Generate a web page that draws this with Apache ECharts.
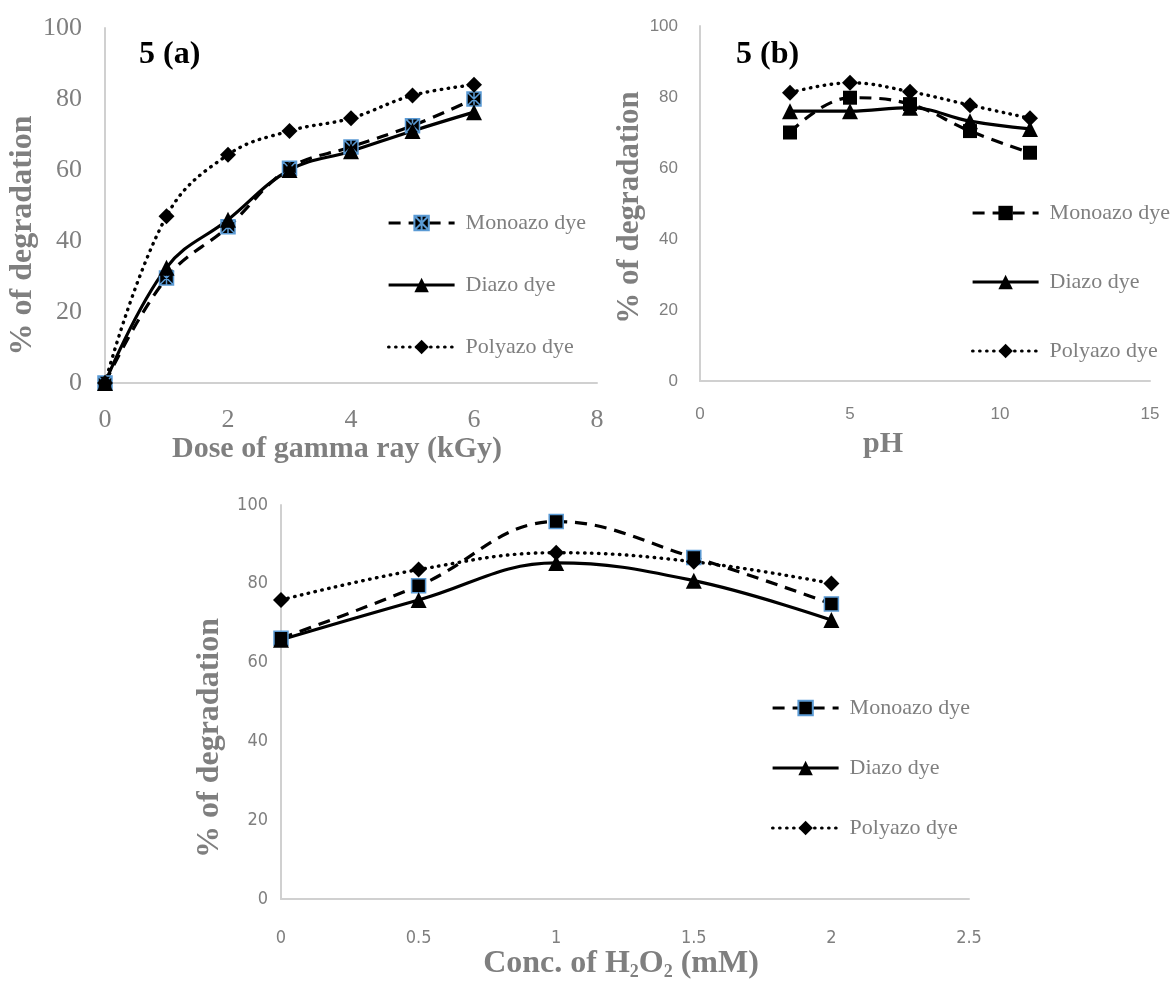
<!DOCTYPE html>
<html>
<head>
<meta charset="utf-8">
<script src="https://cdn.jsdelivr.net/npm/echarts@6/dist/echarts.min.js"></script>
<style>
  html, body { margin: 0; padding: 0; background: #fff; }
  #main { width: 1170px; height: 982px; }
</style>
</head>
<body>
<div id="main"></div>
<script>
// dose of gamma ray (kGy) - panel 5(a)
const doseX = [0, 1, 2, 3, 4, 5, 6];
const doseMono = [0, 29.6, 44, 60.5, 66.5, 72.5, 80];
const doseDi = [0, 32.5, 46, 60, 65.3, 71, 76.3];
const dosePoly = [0, 47, 64.3, 71, 74.6, 81, 84];

// pH - panel 5(b)
const phX = [3, 5, 7, 9, 11];
const phMono = [70, 79.8, 78, 70.4, 64.3];
const phDi = [76, 76, 77, 73.2, 71];
const phPoly = [81.2, 84, 81.5, 77.7, 74];

// conc. of H2O2 (mM) - panel (c)
const concX = [0, 0.5, 1, 1.5, 2];
const concMono = [66.2, 79.5, 95.8, 86.7, 74.9];
const concDi = [65.8, 75.9, 85.3, 80.8, 70.8];
const concPoly = [75.9, 83.6, 87.9, 85.6, 80.1];

const dyeNames = ['Monoazo dye', 'Diazo dye', 'Polyazo dye'];
const doseTicks = { min: 0, max: 8, interval: 2 };
const phTicks = { min: 0, max: 15, interval: 5 };
const concTicks = { min: 0, max: 2.5, interval: 0.5 };
const pctTicks = { min: 0, max: 100, interval: 20 };

const GRAY = '#7f7f7f';
const AXIS_LINE = '#d0d0d0';
const BLUE = '#5b9bd5';
const NARROW = '"DejaVu Sans Condensed", "Liberation Sans Narrow", "Liberation Sans"';
// square with a star drawn over it (excel "star" marker look)
const STAR_SQUARE = 'path://M0,0L10,0L10,10L0,10Z M0,0L10,10 M10,0L0,10 M5,0L5,10';

function pairs(xs, ys) {
  return xs.map((x, i) => [x, ys[i]]);
}

function makeSeries(panel, idx, xs, monoY, diY, polyY, monoSymbol, monoBorder) {
  return [
    {
      name: panel + '|' + dyeNames[0], type: 'line', xAxisIndex: idx, yAxisIndex: idx,
      data: pairs(xs, monoY), smooth: 0.4,
      symbol: monoSymbol, symbolSize: 14,
      itemStyle: { color: '#000', borderColor: monoBorder, borderWidth: monoBorder ? 1.5 : 0 },
      lineStyle: { color: '#000', width: 3.2, type: [12, 8] }
    },
    {
      name: panel + '|' + dyeNames[1], type: 'line', xAxisIndex: idx, yAxisIndex: idx,
      data: pairs(xs, diY), smooth: 0.4,
      symbol: 'triangle', symbolSize: 16,
      itemStyle: { color: '#000' },
      lineStyle: { color: '#000', width: 3.2, type: 'solid' }
    },
    {
      name: panel + '|' + dyeNames[2], type: 'line', xAxisIndex: idx, yAxisIndex: idx,
      data: pairs(xs, polyY), smooth: 0.4,
      symbol: 'diamond', symbolSize: 16,
      itemStyle: { color: '#000' },
      lineStyle: { color: '#000', width: 3.4, type: [0.5, 6.5], cap: 'round' }
    }
  ];
}

function xAxisOf(idx, ticks, name, labelFont, labelSize, labelMargin, nameSize, nameGap, namePad, rich) {
  return {
    type: 'value', gridIndex: idx, min: ticks.min, max: ticks.max, interval: ticks.interval,
    splitLine: { show: false }, axisTick: { show: false },
    axisLine: { lineStyle: { color: AXIS_LINE, width: 2 } },
    axisLabel: { color: GRAY, fontFamily: labelFont, fontSize: labelSize, margin: labelMargin },
    name: name, nameLocation: 'middle', nameGap: nameGap,
    nameTextStyle: {
      color: GRAY, fontFamily: 'Liberation Serif', fontWeight: 'bold', fontSize: nameSize,
      padding: namePad, rich: rich
    }
  };
}

function yAxisOf(idx, labelFont, labelSize, labelMargin, nameSize, nameGap, namePad) {
  return {
    type: 'value', gridIndex: idx, min: pctTicks.min, max: pctTicks.max, interval: pctTicks.interval,
    splitLine: { show: false }, axisTick: { show: false },
    axisLine: { show: true, lineStyle: { color: AXIS_LINE, width: 2 } },
    axisLabel: { color: GRAY, fontFamily: labelFont, fontSize: labelSize, margin: labelMargin },
    name: '% of degradation', nameLocation: 'middle', nameGap: nameGap,
    nameTextStyle: {
      color: GRAY, fontFamily: 'Liberation Serif', fontWeight: 'bold', fontSize: nameSize,
      padding: namePad
    }
  };
}

function legendOf(panel, left, top, gap, font) {
  return {
    orient: 'vertical', left: left, top: top, itemGap: gap,
    itemWidth: 66, itemHeight: 18,
    data: dyeNames.map(n => panel + '|' + n),
    formatter: name => name.split('|')[1],
    lineStyle: { width: 3.2 },
    textStyle: { color: GRAY, fontFamily: font, fontSize: 22, lineHeight: 22, padding: [0, 0, 0, 6] }
  };
}

const chart = echarts.init(document.getElementById('main'));
chart.setOption({
  animation: false,
  backgroundColor: '#fff',
  title: [
    { text: '5 (a)', left: 134, top: 34, textStyle: { color: '#000', fontFamily: 'Liberation Serif', fontWeight: 'bold', fontSize: 32 } },
    { text: '5 (b)', left: 731, top: 34, textStyle: { color: '#000', fontFamily: 'Liberation Serif', fontWeight: 'bold', fontSize: 32 } }
  ],
  grid: [
    { left: 105, right: 573, top: 28, bottom: 599, outerBoundsMode: 'none' },
    { left: 700, right: 20, top: 26, bottom: 601, outerBoundsMode: 'none' },
    { left: 281, right: 201, top: 505, bottom: 83, outerBoundsMode: 'none' }
  ],
  xAxis: [
    xAxisOf(0, doseTicks, 'Dose of gamma ray (kGy)', 'Liberation Serif', 26, 24, 30, 46, [0, 28, 0, 0]),
    xAxisOf(1, phTicks, 'pH', 'Liberation Sans', 17, 25, 30, 48, [0, 84, 0, 0]),
    xAxisOf(2, concTicks, 'Conc. of H{sub|2}O{sub|2} (mM)', NARROW, 18, 30, 32, 44, [0, 8, 0, 0],
      { sub: { color: GRAY, fontFamily: 'Liberation Serif', fontWeight: 'bold', fontSize: 18, padding: [16, 0, 0, 0] } })
  ],
  yAxis: [
    yAxisOf(0, 'Liberation Serif', 26, 23, 32, 58, [0, 60, 0, 0]),
    yAxisOf(1, 'Liberation Sans', 17, 22, 31, 40, [0, 8, 0, 0]),
    yAxisOf(2, NARROW, 18, 13, 32, 50, [0, 72, 0, 0])
  ],
  legend: [
    legendOf('a', 382, 207, 40, 'Liberation Serif'),
    legendOf('b', 966, 197, 47, 'Liberation Serif'),
    legendOf('c', 766, 692, 38, 'Liberation Serif')
  ],
  series: [].concat(
    makeSeries('a', 0, doseX, doseMono, doseDi, dosePoly, STAR_SQUARE, BLUE),
    makeSeries('b', 1, phX, phMono, phDi, phPoly, 'rect', null),
    makeSeries('c', 2, concX, concMono, concDi, concPoly, 'rect', BLUE)
  )
});
</script>
</body>
</html>
